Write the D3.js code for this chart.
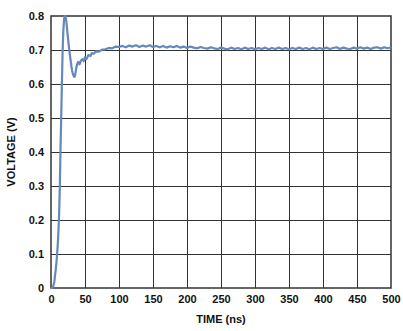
<!DOCTYPE html>
<html>
<head>
<meta charset="utf-8">
<script src="https://cdn.jsdelivr.net/npm/d3@7"></script>
<style>
  html, body { margin: 0; padding: 0; background: #fff; }
  svg text { font-family: "Liberation Sans", Arial, sans-serif; font-weight: bold; fill: #111; }
</style>
</head>
<body>
<div id="chart"></div>
<script>
// Step response: time (ns) and voltage (V)
const timeNs = [
  0, 2, 3, 4, 5, 6, 7, 8, 9, 10, 11, 12, 13, 14, 15, 16, 17, 18, 19, 20,
  21, 22, 23, 24, 25, 26, 27, 28, 29, 30, 31, 32, 33, 34, 35, 36, 37, 38, 39, 40,
  42, 44, 46, 48, 50, 52, 55, 58, 60, 63, 66, 70, 75, 80, 85, 90, 95,
  100, 105, 110, 115, 120, 125, 130, 135, 140, 145, 150, 155, 160, 165, 170, 175,
  180, 185, 190, 195, 200, 205, 210, 215, 220, 225, 230, 235, 240, 245, 250,
  255, 260, 265, 270, 275, 280, 285, 290, 295, 300, 305, 310, 315, 320, 325,
  330, 335, 340, 345, 350, 355, 360, 365, 370, 375, 380, 385, 390, 395, 400,
  405, 410, 415, 420, 425, 430, 435, 440, 445, 450, 455, 460, 465, 470, 475,
  480, 485, 490, 495, 500
];
const voltage = [
  0.0, 0.0, 0.004, 0.01, 0.02, 0.038, 0.055, 0.075, 0.1, 0.13, 0.17, 0.22, 0.3, 0.41, 0.5, 0.6, 0.69, 0.75, 0.785, 0.8,
  0.8, 0.792, 0.775, 0.755, 0.735, 0.715, 0.698, 0.682, 0.667, 0.652, 0.64, 0.631, 0.625, 0.621, 0.622, 0.632, 0.645, 0.655, 0.661, 0.665,
  0.658, 0.669, 0.673, 0.667, 0.679, 0.673, 0.685, 0.682, 0.691, 0.689, 0.696, 0.695, 0.701, 0.702, 0.706, 0.705, 0.71,
  0.709, 0.712, 0.708, 0.713, 0.71, 0.714, 0.709, 0.713, 0.71, 0.714, 0.709, 0.712, 0.708, 0.712, 0.707, 0.711,
  0.708, 0.712, 0.707, 0.71, 0.706, 0.71, 0.707, 0.705, 0.709, 0.706, 0.704, 0.708, 0.705, 0.703, 0.707,
  0.704, 0.702, 0.707, 0.703, 0.706, 0.702, 0.707, 0.703, 0.706, 0.702, 0.706, 0.703, 0.707, 0.702, 0.706,
  0.703, 0.707, 0.703, 0.706, 0.702, 0.706, 0.703, 0.707, 0.703, 0.706, 0.702, 0.707, 0.703, 0.706, 0.703,
  0.707, 0.703, 0.706, 0.708, 0.703, 0.707, 0.704, 0.703, 0.707, 0.704, 0.708, 0.704, 0.707, 0.703, 0.707,
  0.708, 0.704, 0.708, 0.705, 0.708
];
const xTicks = [0, 50, 100, 150, 200, 250, 300, 350, 400, 450, 500];
const yTicks = [0, 0.1, 0.2, 0.3, 0.4, 0.5, 0.6, 0.7, 0.8];

const W = 403, H = 331;
const margin = { top: 16, right: 12, bottom: 43, left: 51 };

const svg = d3.select("#chart").append("svg")
  .attr("width", W).attr("height", H);

const x = d3.scaleLinear().domain([0, 500]).range([margin.left, W - margin.right]);
const y = d3.scaleLinear().domain([0, 0.8]).range([H - margin.bottom, margin.top]);

// grid
svg.append("g")
  .selectAll("line").data(xTicks.slice(1, -1)).join("line")
  .attr("x1", d => Math.round(x(d)) + 0.5).attr("x2", d => Math.round(x(d)) + 0.5)
  .attr("y1", margin.top).attr("y2", H - margin.bottom)
  .attr("stroke", "#333").attr("stroke-width", 1);
svg.append("g")
  .selectAll("line").data(yTicks.slice(1, -1)).join("line")
  .attr("x1", margin.left).attr("x2", W - margin.right)
  .attr("y1", d => Math.round(y(d)) + 0.5).attr("y2", d => Math.round(y(d)) + 0.5)
  .attr("stroke", "#333").attr("stroke-width", 1);

// frame
svg.append("rect")
  .attr("x", margin.left).attr("y", margin.top)
  .attr("width", W - margin.right - margin.left)
  .attr("height", H - margin.bottom - margin.top)
  .attr("fill", "none").attr("stroke", "#333").attr("stroke-width", 1.5);

// axes (labels only)
const xAxis = svg.append("g")
  .attr("transform", `translate(0,${H - margin.bottom})`)
  .call(d3.axisBottom(x).tickValues(xTicks).tickSize(0).tickPadding(7).tickFormat(d3.format("d")));
const yAxis = svg.append("g")
  .attr("transform", `translate(${margin.left},0)`)
  .call(d3.axisLeft(y).tickValues(yTicks).tickSize(0).tickPadding(7)
    .tickFormat(d => d === 0 ? "0" : d3.format(".1f")(d)));
[xAxis, yAxis].forEach(g => {
  g.select(".domain").remove();
  g.selectAll("text").attr("font-size", 11).attr("font-family", null).attr("fill", "#111");
});

// curve
const pts = timeNs.map((t, i) => [t, voltage[i]]);
svg.append("path").datum(pts)
  .attr("fill", "none").attr("stroke", "#6489bb").attr("stroke-width", 2.2)
  .attr("stroke-linejoin", "round")
  .attr("d", d3.line().x(d => x(d[0])).y(d => y(d[1])));

// axis titles
svg.append("text")
  .attr("x", (margin.left + W - margin.right) / 2).attr("y", H - 8)
  .attr("text-anchor", "middle").attr("font-size", 11)
  .text("TIME (ns)");
svg.append("text")
  .attr("transform", `translate(15,${(margin.top + H - margin.bottom) / 2}) rotate(-90)`)
  .attr("text-anchor", "middle").attr("font-size", 11)
  .text("VOLTAGE (V)");
</script>
</body>
</html>
